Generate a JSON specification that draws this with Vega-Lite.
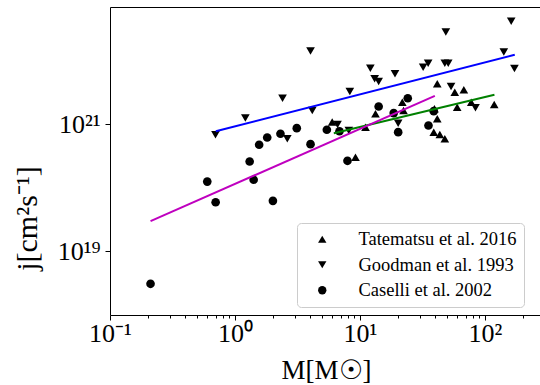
{
  "$schema": "https://vega.github.io/schema/vega-lite/v6.json",
  "width": 430,
  "height": 308,
  "autosize": "none",
  "padding": {"left": 110, "top": 7, "right": 0, "bottom": 70},
  "config": {
    "view": {"stroke": null},
    "axis": {"grid": false, "domainColor": "black", "tickColor": "black", "labelColor": "black", "titleColor": "black", "labelFont": "Liberation Serif", "titleFont": "Liberation Serif", "titleFontWeight": "normal"},
    "legend": {"labelFont": "Liberation Serif", "labelFontSize": 18.5, "labelLimit": 0, "labelColor": "black"}
  },
  "datasets": {
    "points": [
      {"M": 5.99, "j": 1.09e21, "src": "Tatematsu et al. 2016"},
      {"M": 11.07, "j": 9.06e20, "src": "Tatematsu et al. 2016"},
      {"M": 9.2, "j": 3.05e20, "src": "Tatematsu et al. 2016"},
      {"M": 13.3, "j": 1.47e21, "src": "Tatematsu et al. 2016"},
      {"M": 21.8, "j": 2.24e21, "src": "Tatematsu et al. 2016"},
      {"M": 22.3, "j": 1.66e21, "src": "Tatematsu et al. 2016"},
      {"M": 41.5, "j": 4.37e21, "src": "Tatematsu et al. 2016"},
      {"M": 57.3, "j": 3.23e21, "src": "Tatematsu et al. 2016"},
      {"M": 67.7, "j": 3.52e21, "src": "Tatematsu et al. 2016"},
      {"M": 59.9, "j": 1.87e21, "src": "Tatematsu et al. 2016"},
      {"M": 77.6, "j": 2.24e21, "src": "Tatematsu et al. 2016"},
      {"M": 118.5, "j": 2.06e21, "src": "Tatematsu et al. 2016"},
      {"M": 39.4, "j": 1.77e21, "src": "Tatematsu et al. 2016"},
      {"M": 41.5, "j": 1.23e21, "src": "Tatematsu et al. 2016"},
      {"M": 38.9, "j": 7.56e20, "src": "Tatematsu et al. 2016"},
      {"M": 43.5, "j": 6.96e20, "src": "Tatematsu et al. 2016"},
      {"M": 47.7, "j": 5.96e20, "src": "Tatematsu et al. 2016"},
      {"M": 0.698, "j": 6.89e20, "src": "Goodman et al. 1993"},
      {"M": 1.21, "j": 1.27e21, "src": "Goodman et al. 1993"},
      {"M": 2.4, "j": 2.6e21, "src": "Goodman et al. 1993"},
      {"M": 2.62, "j": 5.96e20, "src": "Goodman et al. 1993"},
      {"M": 4.02, "j": 1.43e22, "src": "Goodman et al. 1993"},
      {"M": 4.15, "j": 1.66e21, "src": "Goodman et al. 1993"},
      {"M": 6.61, "j": 1.0e21, "src": "Goodman et al. 1993"},
      {"M": 8.14, "j": 8.05e20, "src": "Goodman et al. 1993"},
      {"M": 8.29, "j": 3.31e21, "src": "Goodman et al. 1993"},
      {"M": 12.1, "j": 7.7e21, "src": "Goodman et al. 1993"},
      {"M": 13.1, "j": 5.25e21, "src": "Goodman et al. 1993"},
      {"M": 14.1, "j": 4.76e21, "src": "Goodman et al. 1993"},
      {"M": 19.05, "j": 6.28e21, "src": "Goodman et al. 1993"},
      {"M": 20.2, "j": 1.05e21, "src": "Goodman et al. 1993"},
      {"M": 32.0, "j": 7.98e21, "src": "Goodman et al. 1993"},
      {"M": 35.1, "j": 9.23e21, "src": "Goodman et al. 1993"},
      {"M": 47.7, "j": 9.23e21, "src": "Goodman et al. 1993"},
      {"M": 50.8, "j": 9.23e21, "src": "Goodman et al. 1993"},
      {"M": 48.6, "j": 2.85e22, "src": "Goodman et al. 1993"},
      {"M": 53.5, "j": 3.96e21, "src": "Goodman et al. 1993"},
      {"M": 83.9, "j": 1.83e21, "src": "Goodman et al. 1993"},
      {"M": 141.4, "j": 1.38e22, "src": "Goodman et al. 1993"},
      {"M": 162, "j": 4.24e22, "src": "Goodman et al. 1993"},
      {"M": 172, "j": 7.62e21, "src": "Goodman et al. 1993"},
      {"M": 0.211, "j": 3.1e18, "src": "Caselli et al. 2002"},
      {"M": 0.6, "j": 1.26e20, "src": "Caselli et al. 2002"},
      {"M": 0.7, "j": 5.97e19, "src": "Caselli et al. 2002"},
      {"M": 1.31, "j": 2.61e20, "src": "Caselli et al. 2002"},
      {"M": 1.41, "j": 1.35e20, "src": "Caselli et al. 2002"},
      {"M": 1.56, "j": 4.79e20, "src": "Caselli et al. 2002"},
      {"M": 1.81, "j": 6.24e20, "src": "Caselli et al. 2002"},
      {"M": 2.01, "j": 6.28e19, "src": "Caselli et al. 2002"},
      {"M": 2.31, "j": 7.14e20, "src": "Caselli et al. 2002"},
      {"M": 3.12, "j": 8.75e20, "src": "Caselli et al. 2002"},
      {"M": 4.02, "j": 4.9e20, "src": "Caselli et al. 2002"},
      {"M": 5.43, "j": 8.26e20, "src": "Caselli et al. 2002"},
      {"M": 6.85, "j": 7.83e20, "src": "Caselli et al. 2002"},
      {"M": 7.94, "j": 2.68e20, "src": "Caselli et al. 2002"},
      {"M": 14.1, "j": 1.92e21, "src": "Caselli et al. 2002"},
      {"M": 18.6, "j": 1.51e21, "src": "Caselli et al. 2002"},
      {"M": 20.2, "j": 7.57e20, "src": "Caselli et al. 2002"},
      {"M": 24.1, "j": 2.59e21, "src": "Caselli et al. 2002"},
      {"M": 35.3, "j": 9.64e20, "src": "Caselli et al. 2002"},
      {"M": 38.9, "j": 1.62e21, "src": "Caselli et al. 2002"}
    ],
    "lines": [
      {"M": 0.702, "j": 7.83e20, "fit": "blue"},
      {"M": 173, "j": 1.253e22, "fit": "blue"},
      {"M": 6.17, "j": 7.29e20, "fit": "green"},
      {"M": 119, "j": 2.94e21, "fit": "green"},
      {"M": 0.211, "j": 3.0e19, "fit": "magenta"},
      {"M": 39.7, "j": 2.83e21, "fit": "magenta"}
    ]
  },
  "layer": [
    {
      "data": {"name": "points"},
      "mark": {"type": "point", "filled": true, "fill": "black", "color": "black", "size": 75, "opacity": 1, "strokeWidth": 0},
      "encoding": {
        "x": {
          "field": "M", "type": "quantitative",
          "scale": {"type": "log", "domain": [0.1, 275.4], "nice": false},
          "axis": {
            "orient": "bottom",
            "values": [0.1, 0.2, 0.3, 0.4, 0.5, 0.6, 0.7, 0.8, 0.9, 1, 2, 3, 4, 5, 6, 7, 8, 9, 10, 20, 30, 40, 50, 60, 70, 80, 90, 100, 200],
            "labelExpr": "datum.value == 0.1 ? '10⁻¹' : datum.value == 1 ? '10⁰' : datum.value == 10 ? '10¹' : datum.value == 100 ? '10²' : ''",
            "tickSize": {"condition": {"test": "indexof([0.1, 1, 10, 100], datum.value) >= 0", "value": 5}, "value": 3},
            "labelFontSize": 26, "labelPadding": 0, "labelOverlap": false, "labelFlush": false, "labelBound": false,
            "title": "M[M☉]", "titleFontSize": 27, "titleX": 216, "titleY": 63, "titleBaseline": "alphabetic", "titleAlign": "center"
          }
        },
        "y": {
          "field": "j", "type": "quantitative",
          "scale": {"type": "log", "domain": [1e18, 7.08e22], "nice": false},
          "axis": {
            "values": [1e19, 1e21],
            "labelExpr": "datum.value < 1e20 ? '10¹⁹' : '10²¹'",
            "tickSize": 5, "labelFontSize": 26, "labelPadding": 5,
            "title": "j[cm²s⁻¹]", "titleFontSize": 30, "titleX": -83, "titleY": 211, "titleAlign": "center", "titleAngle": -90, "titleBaseline": "middle"
          }
        },
        "shape": {
          "field": "src", "type": "nominal",
          "scale": {"domain": ["Tatematsu et al. 2016", "Goodman et al. 1993", "Caselli et al. 2002"], "range": ["triangle-up", "triangle-down", "circle"]},
          "legend": {
            "title": null, "orient": "none", "legendX": 187, "legendY": 216,
            "fillColor": "white", "strokeColor": "#cccccc", "cornerRadius": 4, "padding": 7,
            "labelFont": "Liberation Serif", "labelFontSize": 18.5, "labelColor": "black", "labelLimit": 0,
            "symbolFillColor": "black", "symbolStrokeWidth": 0, "symbolSize": 70, "symbolOffset": 9, "labelOffset": 27, "rowPadding": 6.5
          }
        }
      }
    },
    {
      "data": {"name": "lines"},
      "mark": {"type": "line", "strokeWidth": 2},
      "encoding": {
        "x": {"field": "M", "type": "quantitative", "scale": {"type": "log", "domain": [0.1, 275.4], "nice": false},
          "axis": {"orient": "top", "labels": false, "ticks": false, "title": null, "domain": true, "domainColor": "black"}},
        "y": {"field": "j", "type": "quantitative", "scale": {"type": "log", "domain": [1e18, 7.08e22], "nice": false}},
        "detail": {"field": "fit"},
        "color": {"field": "fit", "type": "nominal", "scale": {"domain": ["blue", "green", "magenta"], "range": ["#0000ff", "#008000", "#bf00bf"]}, "legend": null}
      }
    }
  ],
  "resolve": {"axis": {"x": "independent"}}
}
